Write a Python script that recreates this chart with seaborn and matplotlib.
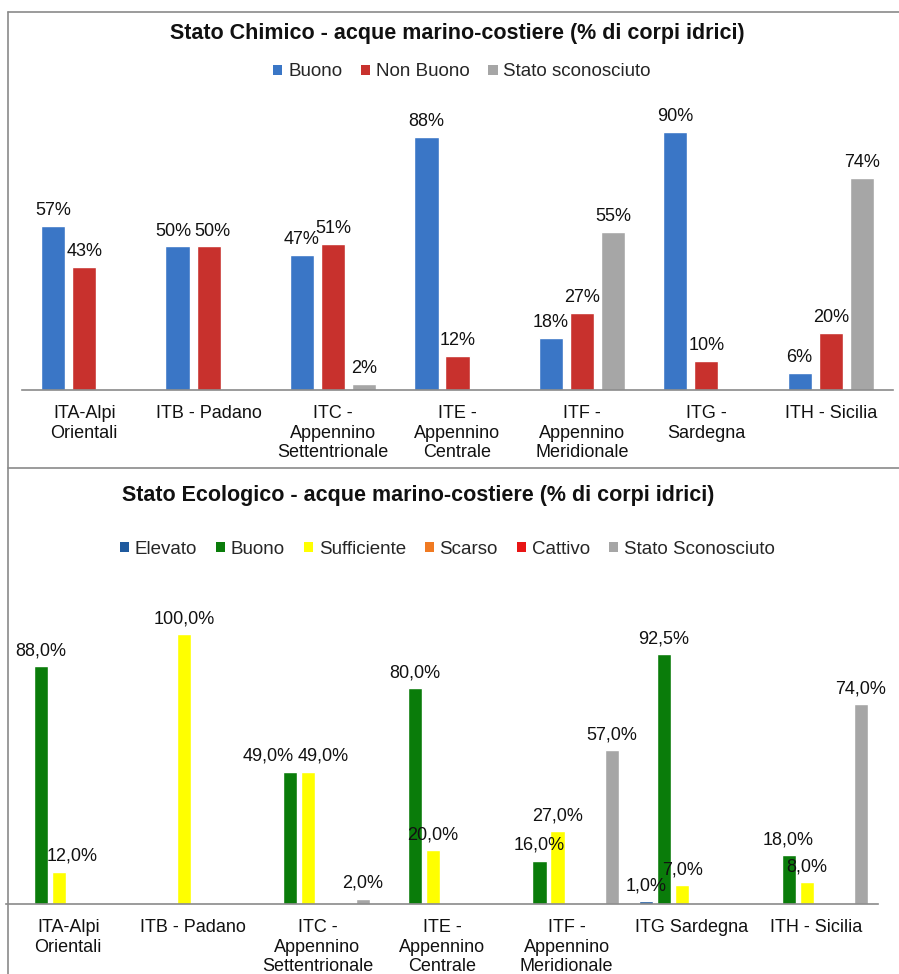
import pandas as pd
import matplotlib.pyplot as plt
import seaborn as sns
from matplotlib.patches import Patch
from matplotlib.lines import Line2D

# Dati - stato chimico
regioni_chim = ["ITA-Alpi\nOrientali", "ITB - Padano", "ITC -\nAppennino\nSettentrionale",
                "ITE -\nAppennino\nCentrale", "ITF -\nAppennino\nMeridionale",
                "ITG -\nSardegna", "ITH - Sicilia"]
chim_stati = ["Buono", "Non Buono", "Stato sconosciuto"]
chim_buono = [57, 50, 47, 88, 18, 90, 6]
chim_non_buono = [43, 50, 51, 12, 27, 10, 20]
chim_sconosciuto = [0, 0, 2, 0, 55, 0, 74]

# Dati - stato ecologico
regioni_eco = ["ITA-Alpi\nOrientali", "ITB - Padano", "ITC -\nAppennino\nSettentrionale",
               "ITE -\nAppennino\nCentrale", "ITF -\nAppennino\nMeridionale",
               "ITG Sardegna", "ITH - Sicilia"]
eco_stati = ["Elevato", "Buono", "Sufficiente", "Scarso", "Cattivo", "Stato Sconosciuto"]
eco_elevato = [0, 0, 0, 0, 0, 1.0, 0]
eco_buono = [88.0, 0, 49.0, 80.0, 16.0, 92.5, 18.0]
eco_sufficiente = [12.0, 100.0, 49.0, 20.0, 27.0, 7.0, 8.0]
eco_scarso = [0, 0, 0, 0, 0, 0, 0]
eco_cattivo = [0, 0, 0, 0, 0, 0, 0]
eco_sconosciuto = [0, 0, 2.0, 0, 57.0, 0, 74.0]

chim_colori = ["#3A76C6", "#C8312D", "#A6A6A6"]
eco_colori = ["#1F5A9E", "#0A7C0A", "#FFFF00", "#F07A22", "#E81515", "#A6A6A6"]

def long_df(regioni, stati, serie):
    rows = []
    for stato, valori in zip(stati, serie):
        for r, v in zip(regioni, valori):
            rows.append({"regione": r, "stato": stato, "valore": v})
    return pd.DataFrame(rows)

df_chim = long_df(regioni_chim, chim_stati, [chim_buono, chim_non_buono, chim_sconosciuto])
df_eco = long_df(regioni_eco, eco_stati, [eco_elevato, eco_buono, eco_sufficiente,
                                          eco_scarso, eco_cattivo, eco_sconosciuto])

sns.set_theme(style="white")
plt.rcParams['font.family'] = ['Liberation Sans', 'DejaVu Sans']

W, H = 899, 974
fig = plt.figure(figsize=(W / 100, H / 100), dpi=100)
fig.patch.set_facecolor("white")

def fx(px):
    return px / W

def fy(py):
    return 1 - py / H

def style_ax(ax):
    for s in ["top", "right", "left"]:
        ax.spines[s].set_visible(False)
    ax.spines["bottom"].set_color("#8A8A8A")
    ax.spines["bottom"].set_linewidth(1.2)
    ax.set_yticks([])
    ax.set_xlabel("")
    ax.set_ylabel("")
    ax.tick_params(axis="x", length=0, pad=11, labelsize=13, colors="#111111")
    ax.set_facecolor("white")

# --- pannello superiore
ax1 = fig.add_axes([fx(22), fy(390), fx(871), 287 / H])
sns.barplot(data=df_chim, x="regione", y="valore", hue="stato", order=regioni_chim,
            hue_order=chim_stati, palette=chim_colori, width=0.75, gap=0.22,
            saturation=1, legend=False, ax=ax1)
ax1.set_ylim(0, 100)
ax1.set_xlim(-0.5, 6.5)
style_ax(ax1)
etich1 = []
for cont in ax1.containers:
    labs = [f"{b.get_height():.0f}%" if b.get_height() > 0 else "" for b in cont]
    etich1.append(ax1.bar_label(cont, labels=labs, padding=5, fontsize=13, color="#111111"))
# ITB: 50% 50% affiancate
etich1[0][1].xyann = (-3, 5)
etich1[1][1].xyann = (3, 5)

fig.text(fx(457), fy(33), "Stato Chimico - acque marino-costiere (% di corpi idrici)",
         ha="center", va="center", fontsize=15.5, fontweight="bold", color="#111111")
h1 = [Patch(facecolor=c, edgecolor="none") for c in chim_colori]
fig.legend(h1, chim_stati, loc="center", bbox_to_anchor=(fx(462), fy(72)), ncol=3,
           frameon=False, fontsize=13.5, handlelength=0.5, handleheight=0.5,
           handletextpad=0.3, columnspacing=1.0)

# --- pannello inferiore
ax2 = fig.add_axes([fx(6), fy(904), fx(872), 270 / H])
sns.barplot(data=df_eco, x="regione", y="valore", hue="stato", order=regioni_eco,
            hue_order=eco_stati, palette=eco_colori, width=0.87, gap=0.22,
            saturation=1, legend=False, ax=ax2)
ax2.set_ylim(0, 100)
ax2.set_xlim(-0.5, 6.5)
style_ax(ax2)
etich2 = []
for cont in ax2.containers:
    labs = [f"{b.get_height():.1f}%".replace(".", ",") if b.get_height() > 0 else "" for b in cont]
    etich2.append(ax2.bar_label(cont, labels=labs, padding=5, fontsize=13, color="#111111"))
# ITC: 49,0% 49,0% affiancate, ITA 12,0% spostata a destra
etich2[1][2].xyann = (-16, 5)
etich2[2][2].xyann = (11, 5)
etich2[2][0].xyann = (9, 5)

fig.text(fx(418), fy(496), "Stato Ecologico - acque marino-costiere (% di corpi idrici)",
         ha="center", va="center", fontsize=15.5, fontweight="bold", color="#111111")
h2 = [Patch(facecolor=c, edgecolor="none") for c in eco_colori]
fig.legend(h2, eco_stati, loc="center", bbox_to_anchor=(fx(447), fy(549)), ncol=6,
           frameon=False, fontsize=13.5, handlelength=0.5, handleheight=0.5,
           handletextpad=0.3, columnspacing=1.0)

# cornici
bordo = "#8A8A8A"
fig.add_artist(Line2D([fx(8), 1], [fy(12), fy(12)], color=bordo, lw=1.2))
fig.add_artist(Line2D([fx(8), 1], [fy(468), fy(468)], color=bordo, lw=1.2))
fig.add_artist(Line2D([fx(8), fx(8)], [fy(12), 0], color=bordo, lw=1.2))

fig.savefig("out.png", dpi=100, facecolor="white")
